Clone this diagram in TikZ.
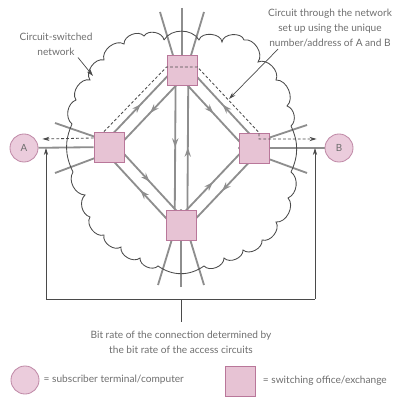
\documentclass[tikz,border=0pt]{standalone}
\usepackage{fontspec}
\setmainfont{Lato}
\usetikzlibrary{arrows.meta, positioning, calc, backgrounds, decorations.markings}
\definecolor{swfill}{HTML}{E7C3D4}
\definecolor{swedge}{HTML}{B9779A}
\definecolor{subfill}{HTML}{EBCCDC}
\definecolor{subedge}{HTML}{C08AA7}
\definecolor{linkgray}{HTML}{8E8E8E}
\definecolor{notegray}{HTML}{4A4A4A}
\definecolor{textgray}{HTML}{6E6E6E}
\tikzset{
    swnode/.style={rectangle, draw=swedge, fill=swfill, line width=0.6pt, minimum size=7.5mm, inner sep=0pt},
    subnode/.style={circle, draw=subedge, fill=subfill, line width=0.6pt, minimum size=7mm, inner sep=0pt, text=textgray, font=\fontsize{7}{8}\selectfont},
    trunk/.style={draw=linkgray, line width=1.3pt},
    fwd/.style={postaction={decorate}, decoration={markings, mark=at position 0.5 with {\arrow{Stealth[length=6.5pt,width=4.5pt]}}}},
    bwd/.style={postaction={decorate}, decoration={markings, mark=at position 0.5 with {\arrowreversed{Stealth[length=6.5pt,width=4.5pt]}}}},
    circuit/.style={draw=notegray, line width=0.6pt, dash pattern=on 2pt off 1.5pt},
    noteline/.style={draw=notegray, line width=0.5pt},
    arrowtip/.style={-{Stealth[length=5pt,width=3pt]}},
    cloudline/.style={draw=notegray, line width=0.6pt},
    notetext/.style={text=textgray, font=\fontsize{7.2}{10.6}\selectfont, align=center, inner sep=0pt},
}
% pair of trunk lines between two switching offices
\newcommand{\linkpair}[4]{%
    \draw[trunk, #3] ($(#1)!4.5pt!90:(#2)$) -- ($(#2)!4.5pt!-90:(#1)$);
    \draw[trunk, #4] ($(#1)!4.5pt!-90:(#2)$) -- ($(#2)!4.5pt!90:(#1)$);
}

\begin{document}
\begin{tikzpicture}[x=0.025cm, y=0.025cm]
    \useasboundingbox (0,0) rectangle (405,-398);

    % Terminals and switching offices
    \node[subnode] (a) at (24,-148) {A};
    \node[subnode] (b) at (339,-148) {B};
    \node[swnode] (sl) at (109,-147) {};
    \node[swnode] (st) at (182,-70) {};
    \node[swnode] (sr) at (254,-148) {};
    \node[swnode] (sb) at (181,-225) {};

    % Loose ends of the other trunks
    \coordinate (t1) at (160,-12);
    \coordinate (t2) at (182,-8);
    \coordinate (t3) at (204,-12);
    \coordinate (u1) at (158,-285);
    \coordinate (u2) at (181,-287);
    \coordinate (u3) at (204,-285);
    \coordinate (l1) at (55,-123);
    \coordinate (l2) at (55,-173);
    \coordinate (r1) at (307,-125);
    \coordinate (r2) at (307,-173);

    \begin{pgfonlayer}{background}
        \linkpair{st}{sb}{bwd}{fwd}
        \linkpair{sl}{st}{fwd}{bwd}
        \linkpair{sl}{sb}{fwd}{bwd}
        \linkpair{sb}{sr}{fwd}{bwd}
        \linkpair{st}{sr}{bwd}{fwd}
        \draw[trunk] (a) -- (sl);
        \draw[trunk] (sr) -- (b);
        \foreach \p in {t1,t2,t3} \draw[trunk] (\p) -- (st.south);
        \foreach \p in {u1,u2,u3} \draw[trunk] (\p) -- (sb.north);
        \foreach \p in {l1,l2} \draw[trunk] (\p) -- (sl.east);
        \foreach \p in {r1,r2} \draw[trunk] (\p) -- (sr.west);
    \end{pgfonlayer}

    % Network cloud
    \draw[cloudline] (164,-40) to[bend left=60] (199,-40)
        to[bend left=80] (222,-42) to[bend left=80] (244,-40)
        to[bend left=70] (258,-62) to[bend left=70] (276,-80)
        to[bend left=70] (287,-106) to[bend left=60] (291,-126)
        to[bend left=25] (291,-172)
        to[bend left=60] (288,-198) to[bend left=70] (276,-222)
        to[bend left=70] (262,-240) to[bend left=70] (243,-250)
        to[bend left=70] (224,-258) to[bend left=70] (204,-266)
        to[bend left=35] (158,-266)
        to[bend left=70] (140,-258) to[bend left=70] (121,-247)
        to[bend left=70] (104,-235) to[bend left=70] (90,-217)
        to[bend left=60] (85,-195) to[bend left=60] (73,-172)
        to[bend left=25] (72,-124)
        to[bend left=60] (76,-100) to[bend left=70] (90,-80)
        to[bend left=70] (104,-60) to[bend left=70] (124,-44)
        to[bend left=70] (144,-36) to[bend left=70] (164,-40);

    % Circuit from A to B
    \coordinate (c1) at ($(sl.north)+(-5,0)$);
    \coordinate (c2) at ($(st.west)+(0,3)$);
    \coordinate (c3) at ($(st.east)+(0,3)$);
    \coordinate (c4) at ($(sr.north)+(5,0)$);
    \coordinate (c5) at ($(b.west)+(-8,9)$);
    \draw[circuit, arrowtip] ($(sl.west)+(0,9)$) -- ($(a.east)+(4,9)$);
    \draw[circuit, arrowtip] (c1) -- (c2) -- (c3) -- (c4) |- (c5);

    % Annotations
    \node[notetext] (cloudtxt) at (56,-44) {Circuit-switched\\network};
    \coordinate (cloudpt) at (93,-76);
    \draw[noteline, arrowtip] ($(cloudtxt.south)+(22,-2)$) -- (cloudpt);

    \node[notetext] (circtxt) at (330,-28) {Circuit through the network\\set up using the unique\\number/address of A and B};
    \coordinate (circpt) at (229,-99);
    \draw[noteline, arrowtip] ($(circtxt.south)+(-52,-2)$) -- (circpt);

    \coordinate (ba) at (46,-299);
    \coordinate (bb) at (315,-299);
    \draw[noteline, arrowtip] (ba) -- (ba |- a.east);
    \draw[noteline] (ba) -- (bb);
    \draw[noteline, arrowtip] (bb) -- (bb |- b.west);
    \node[notetext] (ratetxt) at (181,-342) {Bit rate of the connection determined by\\the bit rate of the access circuits};
    \draw[noteline] (ratetxt.north |- ba) -- ++(0,-23);

    % Key
    \node[subnode] (keysub) at (25,-380) {};
    \node[notetext, right=0.1cm of keysub] (keysubtxt) {= subscriber terminal/computer};
    \node[swnode] (keysw) at (240,-381) {};
    \node[notetext, right=0.18cm of keysw] (keyswtxt) {= switching office/exchange};
\end{tikzpicture}
\end{document}
